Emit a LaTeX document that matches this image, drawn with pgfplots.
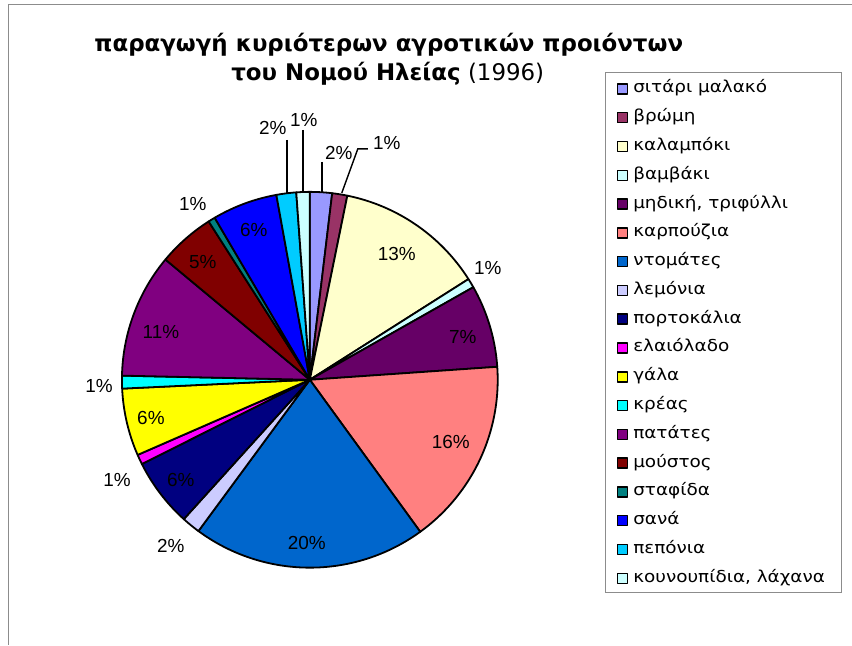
\documentclass[border=0pt]{standalone}
\usepackage{fontspec}
\setmainfont{DejaVu Sans}
\newfontfamily\numfont{Liberation Sans}
\newfontfamily\legfont[FakeStretch=1.12]{DejaVu Sans}
\usepackage{pgfplots}
\usepackage{pgfplotstable}
\pgfplotsset{compat=1.18}

% share of each product (percent), clockwise from 12 o'clock
\pgfplotstableread{
value
1.9
1.3
12.8
0.8
7.1
16.1
20.1
1.6
5.9
0.85
5.8
1.1
10.7
4.9
0.6
5.6
1.7
1.15
}\piedata

\definecolor{c0}{HTML}{9999FF}
\definecolor{c1}{HTML}{993366}
\definecolor{c2}{HTML}{FFFFCC}
\definecolor{c3}{HTML}{CCFFFF}
\definecolor{c4}{HTML}{660066}
\definecolor{c5}{HTML}{FF8080}
\definecolor{c6}{HTML}{0066CC}
\definecolor{c7}{HTML}{CCCCFF}
\definecolor{c8}{HTML}{000080}
\definecolor{c9}{HTML}{FF00FF}
\definecolor{c10}{HTML}{FFFF00}
\definecolor{c11}{HTML}{00FFFF}
\definecolor{c12}{HTML}{800080}
\definecolor{c13}{HTML}{800000}
\definecolor{c14}{HTML}{008080}
\definecolor{c15}{HTML}{0000FF}
\definecolor{c16}{HTML}{00CCFF}
\definecolor{c17}{HTML}{CCFFFF}
\definecolor{framegray}{HTML}{8C8C8C}

\expandafter\def\csname ln0\endcsname{σιτάρι μαλακό}
\expandafter\def\csname ln1\endcsname{βρώμη}
\expandafter\def\csname ln2\endcsname{καλαμπόκι}
\expandafter\def\csname ln3\endcsname{βαμβάκι}
\expandafter\def\csname ln4\endcsname{μηδική, τριφύλλι}
\expandafter\def\csname ln5\endcsname{καρπούζια}
\expandafter\def\csname ln6\endcsname{ντομάτες}
\expandafter\def\csname ln7\endcsname{λεμόνια}
\expandafter\def\csname ln8\endcsname{πορτοκάλια}
\expandafter\def\csname ln9\endcsname{ελαιόλαδο}
\expandafter\def\csname ln10\endcsname{γάλα}
\expandafter\def\csname ln11\endcsname{κρέας}
\expandafter\def\csname ln12\endcsname{πατάτες}
\expandafter\def\csname ln13\endcsname{μούστος}
\expandafter\def\csname ln14\endcsname{σταφίδα}
\expandafter\def\csname ln15\endcsname{σανά}
\expandafter\def\csname ln16\endcsname{πεπόνια}
\expandafter\def\csname ln17\endcsname{κουνουπίδια, λάχανα}

% cumulative angles -> one domain style per slice
\def\cum{0}
\pgfplotsforeachungrouped \i in {0,...,17}{%
  \pgfplotstablegetelem{\i}{value}\of\piedata
  \pgfmathsetmacro\sa{\cum*3.6}%
  \pgfmathsetmacro\cum{\cum+\pgfplotsretval}%
  \pgfmathsetmacro\sb{\cum*3.6}%
  \edef\tmp{\noexpand\pgfplotsset{sl\i/.style={domain=\sa:\sb}}}\tmp
}

\newcommand\pl[3]{\node[font=\numfont\fontsize{19}{22}\selectfont, inner sep=0pt] at (axis cs:#1,#2) {#3\%};}

\begin{document}
\begin{tikzpicture}
\begin{axis}[
  x=1bp, y=1bp, xmin=0, xmax=852, ymin=0, ymax=645,
  scale only axis, hide axis, clip=false, enlargelimits=false,
  legend cell align=left,
  legend image code/.code={\draw[draw=black, line width=1.5bp, fill] (0bp,-5bp) rectangle (10bp,5bp); \path (15bp,0bp);},
  legend style={at={(0.72418,0.88434)}, anchor=north west, draw=none, fill=none,
    inner sep=0pt, outer sep=0pt, row sep=0pt, column sep=0pt,
    nodes={inner sep=0pt, minimum height=28.8bp, text height=12bp, text depth=4bp,
      font=\legfont\fontsize{16.5}{19}\selectfont}},
]
\path (axis cs:0,0) rectangle (axis cs:852,645);
% frame
\draw[framegray, line width=1bp] (axis cs:852,640) -- (axis cs:9,640) -- (axis cs:9,0);
% legend box
\draw[framegray, line width=1bp, fill=white] (axis cs:606,52) rectangle (axis cs:842,572);

\pgfplotsinvokeforeach{0,...,17}{%
  \addplot[fill=c#1, draw=black, line width=1.8bp, line join=round, sl#1, samples=60, variable=\t]
    ({310+188*sin(\t)},{265+188*cos(\t)}) -- (axis cs:310,265) -- cycle;
  \addlegendentry{\csname ln#1\endcsname}
}

% leader lines
\draw[black, line width=1.4bp] (axis cs:287,505) -- (axis cs:287,452);
\draw[black, line width=1.4bp] (axis cs:303,515) -- (axis cs:303,452);
\draw[black, line width=1.4bp] (axis cs:322,483) -- (axis cs:322,452);
\draw[black, line width=1.4bp] (axis cs:368,496) -- (axis cs:358,496) -- (axis cs:342,452);

% percentage labels
\pl{397}{391}{13}
\pl{488}{377}{1}
\pl{463}{308}{7}
\pl{451}{203}{16}
\pl{307}{102}{20}
\pl{171}{99}{2}
\pl{181}{165}{6}
\pl{117}{165}{1}
\pl{151}{227}{6}
\pl{99}{259}{1}
\pl{161}{313}{11}
\pl{203}{383}{5}
\pl{193}{441}{1}
\pl{254}{415}{6}
\pl{273}{517}{2}
\pl{304}{525}{1}
\pl{339}{492}{2}
\pl{387}{502}{1}

% title
\node[anchor=base, font=\bfseries\fontsize{23}{27}\selectfont, inner sep=0pt] at (axis cs:389,593) {παραγωγή κυριότερων αγροτικών προιόντων};
\node[anchor=base, font=\fontsize{23}{27}\selectfont, inner sep=0pt] at (axis cs:388,564) {\textbf{του Νομού Ηλείας} (1996)};
\end{axis}
\end{tikzpicture}
\end{document}
